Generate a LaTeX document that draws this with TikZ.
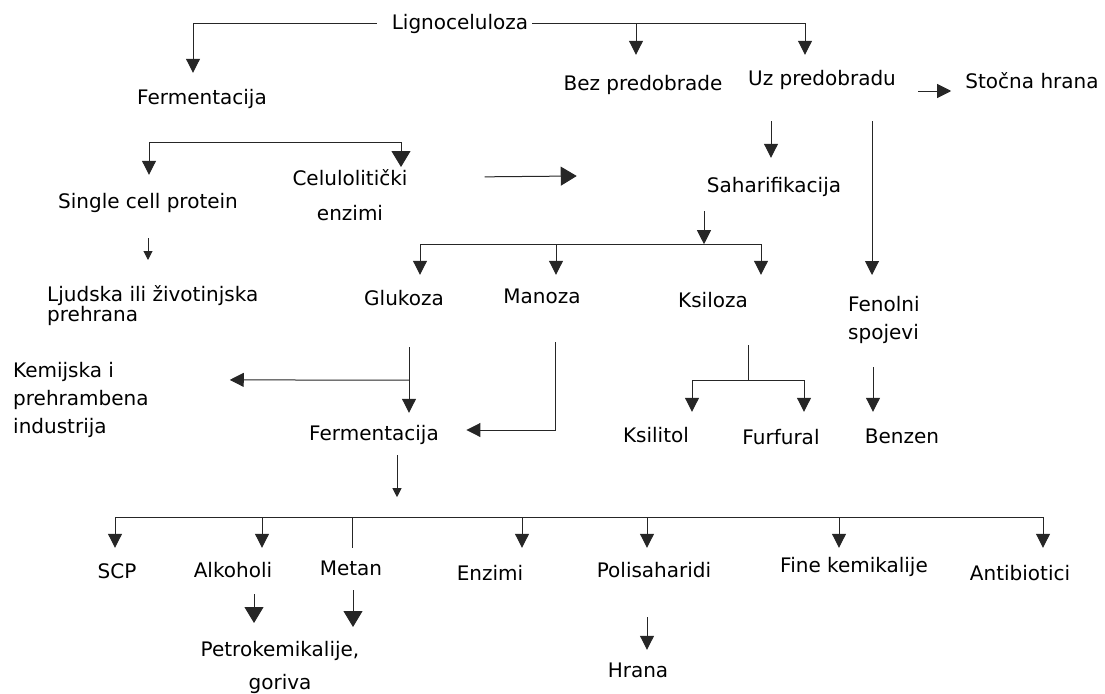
\documentclass[tikz,border=0pt]{standalone}
\usepackage{fontspec}
\setmainfont{DejaVu Sans}
\usetikzlibrary{arrows.meta,positioning}

\begin{document}
\begin{tikzpicture}[x=1pt,y=-1pt]
    \tikzstyle{inv}=[inner sep=0,font=\fontsize{20}{28}\selectfont,text height=15pt,text depth=4pt]
    \tikzstyle{multi}=[inner sep=0,font=\fontsize{20}{28}\selectfont]
    \tikzstyle{ln}=[draw=black!85,line width=1pt]
    \tikzstyle{arr}=[ln,-{Triangle[width=14pt,length=14pt]}]
    \tikzstyle{sarr}=[ln,-{Triangle[width=9pt,length=9pt]}]
    \tikzstyle{barr}=[ln,-{Triangle[width=19pt,length=16pt]}]
    \useasboundingbox (0,0) rectangle (1105,693);
    \node[inv] (lig) at (460,24) {Lignoceluloza} ;
    \node[inv] (ferm) at (202,99) {Fermentacija} ;
    \node[inv] (bez) at (643,85) {Bez predobrade} ;
    \node[inv] (uz) at (822,80) {Uz predobradu} ;
    \node[inv] (stocna) at (1032,83) {Stočna hrana} ;
    \node[inv] (scp1) at (148,203) {Single cell protein} ;
    \node[multi,align=center,anchor=north] (celu) at (350,169) {Celulolitički\\[7pt]enzimi} ;
    \node[inv] (sahar) at (774,187) {Saharifikacija} ;
    \node[multi,align=left,anchor=north west] (ljud) at (47,285) {Ljudska ili životinjska\\[-8pt]prehrana} ;
    \node[inv] (gluk) at (404,300) {Glukoza} ;
    \node[inv] (manoza) at (542,298) {Manoza} ;
    \node[inv] (ksiloza) at (713,302) {Ksiloza} ;
    \node[multi,align=left,anchor=north west] (fenol) at (848,296) {Fenolni\\spojevi} ;
    \node[multi,align=left,anchor=north west] (kemij) at (13,362) {Kemijska i\\prehrambena\\industrija} ;
    \node[inv] (ferm2) at (374,435) {Fermentacija} ;
    \node[inv] (ksilitol) at (656,437) {Ksilitol} ;
    \node[inv] (furfural) at (781,439) {Furfural} ;
    \node[inv] (benzen) at (902,438) {Benzen} ;
    \node[inv] (scp) at (117,573) {SCP} ;
    \node[inv] (alk) at (233,572) {Alkoholi} ;
    \node[inv] (metan) at (351,570) {Metan} ;
    \node[inv] (enzimi) at (490,575) {Enzimi} ;
    \node[inv] (polis) at (654,572) {Polisaharidi} ;
    \node[inv] (fine) at (854,567) {Fine kemikalije} ;
    \node[inv] (antib) at (1020,575) {Antibiotici} ;
    \node[multi,align=center,anchor=north] (petro) at (280,641) {Petrokemikalije,\\[5pt]goriva} ;
    \node[inv] (hrana) at (638,672) {Hrana} ;
    % Lignoceluloza
    \draw[arr] ([xshift=-15pt]lig.west) -| ([xshift=-9pt,yshift=16.5pt]ferm.north) ;
    \draw[arr] ([xshift=4pt]lig.east) -| ([xshift=-17pt,yshift=15.5pt]uz.north) ;
    \coordinate (bz) at ([xshift=-7pt,yshift=20.5pt]bez.north) ;
    \draw[arr] (bz |- lig) -- (bz) ;
    \draw[arr] ([xshift=22pt,yshift=-11pt]uz.east) -- ([xshift=-14pt,yshift=-8pt]stocna.west) ;
    % Fermentacija
    \coordinate (fk) at ([yshift=-33.5pt]ferm.south) ;
    \draw[arr] (fk) -| ([xshift=1pt,yshift=18.5pt]scp1.north) ;
    \draw[barr] (fk) -| ([xshift=51pt,yshift=2pt]celu.north) ;
    \draw[sarr] ([yshift=-25.5pt]scp1.south) -- ([xshift=101pt,yshift=25pt]ljud.north west) ;
    \draw[barr] ([xshift=77pt,yshift=18pt]celu.east) -- ([xshift=-130pt,yshift=11pt]sahar.west) ;
    % Uz predobradu
    \draw[arr] ([xshift=-51pt,yshift=-31.5pt]uz.south) -- ([xshift=-3pt,yshift=19.5pt]sahar.north) ;
    \draw[arr] ([xshift=50pt,yshift=-31.5pt]uz.south) -- ([xshift=24pt,yshift=21pt]fenol.north west) ;
    % Saharifikacija
    \coordinate (sk) at ([xshift=-70pt,yshift=-47.5pt]sahar.south) ;
    \draw[arr] ([xshift=-70pt,yshift=-14.5pt]sahar.south) -- (sk) ;
    \draw[arr] (sk) -| ([xshift=16pt,yshift=15.5pt]gluk.north) ;
    \draw[arr] (sk) -| ([xshift=48pt,yshift=17.5pt]ksiloza.north) ;
    \coordinate (mz) at ([xshift=14pt,yshift=13.5pt]manoza.north) ;
    \draw[arr] (mz |- sk) -- (mz) ;
    % Glukoza, Manoza
    \coordinate (gk) at ([xshift=5pt,yshift=-70.5pt]gluk.south) ;
    \draw[arr] ([xshift=5pt,yshift=-37.5pt]gluk.south) -- ([xshift=35pt,yshift=12.5pt]ferm2.north) ;
    \draw[arr] (gk) -- ([xshift=81pt,yshift=20pt]kemij.east) ;
    \draw[arr] ([xshift=13pt,yshift=-34.5pt]manoza.south) |- ([xshift=27.5pt,yshift=5pt]ferm2.east) ;
    % Ksiloza
    \coordinate (xk) at ([xshift=35pt,yshift=-68.5pt]ksiloza.south) ;
    \draw[ln] ([xshift=35pt,yshift=-33.5pt]ksiloza.south) -- (xk) ;
    \draw[arr] (xk) -| ([xshift=36pt,yshift=15.5pt]ksilitol.north) ;
    \draw[arr] (xk) -| ([xshift=23pt,yshift=17.5pt]furfural.north) ;
    % Fenolni spojevi
    \draw[arr] ([xshift=25pt,yshift=-23.3pt]fenol.south west) -- ([xshift=-29pt,yshift=16.5pt]benzen.north) ;
    % Fermentacija -> proizvodi
    \coordinate (fb) at ([xshift=23pt,yshift=-72.5pt]ferm2.south) ;
    \draw[sarr] ([xshift=23pt,yshift=-10.5pt]ferm2.south) -- ([yshift=20pt]fb) ;
    \coordinate (s1) at ([xshift=-2pt,yshift=15.5pt]scp.north) ;
    \coordinate (s2) at ([xshift=29pt,yshift=14.5pt]alk.north) ;
    \coordinate (s3) at ([xshift=1pt,yshift=12.5pt]metan.north) ;
    \coordinate (s4) at ([xshift=32pt,yshift=17.5pt]enzimi.north) ;
    \coordinate (s5) at ([xshift=-7pt,yshift=14.5pt]polis.north) ;
    \coordinate (s6) at ([xshift=-15pt,yshift=9.5pt]fine.north) ;
    \coordinate (s7) at ([xshift=23pt,yshift=17.5pt]antib.north) ;
    \draw[ln] (s1 |- fb) -- (s7 |- fb) ;
    \draw[arr] (s1 |- fb) -- (s1) ;
    \draw[arr] (s2 |- fb) -- (s2) ;
    \draw[ln] (s3 |- fb) -- (s3) ;
    \draw[arr] (s4 |- fb) -- (s4) ;
    \draw[arr] (s5 |- fb) -- (s5) ;
    \draw[arr] (s6 |- fb) -- (s6) ;
    \draw[arr] (s7 |- fb) -- (s7) ;
    \draw[barr] ([xshift=21pt,yshift=-12.5pt]alk.south) -- ([xshift=-26pt,yshift=18pt]petro.north) ;
    \draw[barr] ([xshift=2pt,yshift=-10.5pt]metan.south) -- ([xshift=73pt,yshift=14pt]petro.north) ;
    \draw[arr] ([xshift=-7pt,yshift=-35.5pt]polis.south) -- ([xshift=9pt,yshift=12.5pt]hrana.north) ;
\end{tikzpicture}
\end{document}
